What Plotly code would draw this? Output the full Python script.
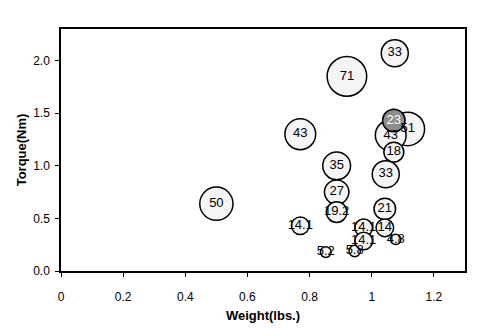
import plotly.graph_objects as go

# Motor data: weight (lbs.), torque (Nm), and the value printed in each bubble
weights = [0.50, 0.77, 0.77, 0.92, 0.887, 0.887, 0.887, 0.852, 0.945, 0.974, 0.974,
           1.074, 1.116, 1.061, 1.071, 1.071, 1.045, 1.042, 1.042, 1.077]
torques = [0.64, 1.30, 0.43, 1.85, 1.00, 0.75, 0.56, 0.18, 0.19, 0.41, 0.285,
           2.07, 1.35, 1.29, 1.43, 1.13, 0.92, 0.59, 0.41, 0.30]
values = [50, 43, 14.1, 71, 35, 27, 19.2, 5.2, 5.8, 14.1, 14.1,
          33, 51, 43, 23, 18, 33, 21, 14, 4.8]
labels = ["50", "43", "14.1", "71", "35", "27", "19.2", "5.2", "5.8", "14.1", "14.1",
          "33", "51", "43", "23", "18", "33", "21", "14", "4.8"]
highlight = "23"

fills = ["#8c8c8c" if t == highlight else "#f4f4f4" for t in labels]
text_colors = ["white" if t == highlight else "black" for t in labels]

fig = go.Figure(
    go.Scatter(
        x=weights,
        y=torques,
        mode="markers+text",
        text=labels,
        textposition="middle center",
        textfont=dict(family="Liberation Sans, Arial", size=13, color=text_colors),
        marker=dict(
            size=values,
            sizemode="area",
            sizeref=2 / 4.7**2,
            color=fills,
            line=dict(color="black", width=1.5),
            opacity=1,
        ),
        showlegend=False,
        cliponaxis=False,
    )
)

axis_common = dict(
    showgrid=False,
    zeroline=False,
    showline=True,
    linecolor="black",
    linewidth=1.5,
    mirror=True,
    ticks="outside",
    ticklen=4,
    tickcolor="black",
    automargin=False,
    tickfont=dict(family="Liberation Sans, Arial", size=12, color="black"),
)

fig.update_xaxes(
    range=[0, 1.3],
    tickvals=[0, 0.2, 0.4, 0.6, 0.8, 1.0, 1.2],
    ticktext=["0", "0.2", "0.4", "0.6", "0.8", "1", "1.2"],
    ticklabelstandoff=10,
    title=dict(text="<b>Weight(lbs.)</b>", font=dict(family="Liberation Sans, Arial", size=13, color="black"), standoff=8),
    **axis_common,
)
fig.update_yaxes(
    range=[0, 2.3],
    tickvals=[0, 0.5, 1.0, 1.5, 2.0],
    ticktext=["0.0", "0.5", "1.0", "1.5", "2.0"],
    ticklabelstandoff=3,
    title=dict(text="<b>Torque(Nm)</b>", font=dict(family="Liberation Sans, Arial", size=13, color="black"), standoff=4),
    **axis_common,
)

fig.update_layout(
    width=500,
    height=331,
    margin=dict(l=61, r=35, t=29, b=60),
    paper_bgcolor="white",
    plot_bgcolor="white",
)

fig.write_html("out.html")
